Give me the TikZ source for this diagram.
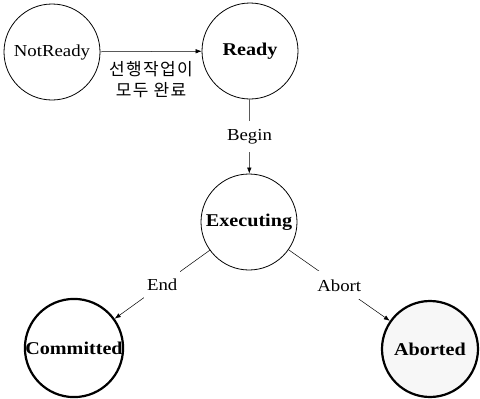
\documentclass[tikz,border=0pt]{standalone}
\usepackage{fontspec}
\setmainfont[FakeStretch=1.12]{Liberation Serif}
\newfontfamily\krfont[LetterSpace=8]{Noto Sans CJK KR}
\usetikzlibrary{arrows.meta}
\begin{document}
\begin{tikzpicture}[x=1pt,y=-1pt,
  state/.style={circle,draw,line width=0.8pt,minimum size=96pt,inner sep=0pt,
    font=\fontsize{16.8}{18}\selectfont},
  boldstate/.style={state,font=\fontsize{18}{19}\selectfont\bfseries},
  finalstate/.style={boldstate,line width=2.2pt},
  edge/.style={line width=0.5pt,-{Latex[length=6pt,width=4.5pt]}},
  lbl/.style={fill=white,inner xsep=3pt,inner ysep=8pt,
    font=\fontsize{16.8}{18}\selectfont}]
\useasboundingbox (0,0) rectangle (480,399);

% states
\node[state]      (notready)  at (52,52)   {NotReady};
\node[boldstate]  (ready)     at (250,51)  {Ready};
\node[boldstate]  (exec)      at (249,222) {Executing};
\node[finalstate] (committed) at (74,348)  {Committed};
\node[finalstate,fill=black!3] (aborted) at (430,349) {Aborted};

% transitions
\draw[edge] (notready) -- node[below=10pt,inner sep=0pt,align=center,
    font=\krfont\fontsize{17}{21}\selectfont] {선행작업이\\모두 완료} (ready);
\draw[edge] (ready) -- node[lbl] {Begin} (exec);
\draw[edge] (exec) -- node[lbl] {End} (committed);
\draw[edge] (exec) -- node[lbl] {Abort} (aborted);
\end{tikzpicture}
\end{document}
